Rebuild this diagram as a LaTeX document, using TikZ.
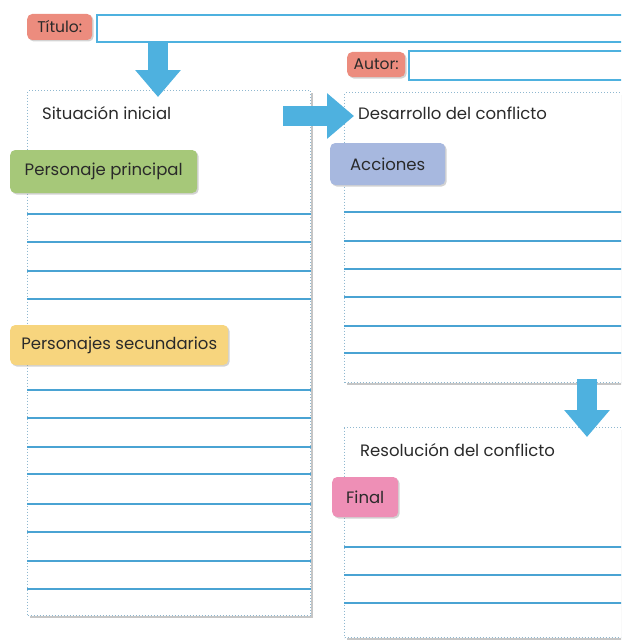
\documentclass[tikz,border=0pt]{standalone}
\usepackage{fontspec}
\setmainfont{Poppins}
\usetikzlibrary{positioning, shadows, arrows.meta}
\definecolor{azul}{HTML}{4EB1DF}
\definecolor{linea}{HTML}{4AA3D3}
\definecolor{rojo}{HTML}{EC8C7E}
\definecolor{verde}{HTML}{A6C879}
\definecolor{amarillo}{HTML}{F7D57E}
\definecolor{lila}{HTML}{A7B8DF}
\definecolor{rosa}{HTML}{EE8FB6}
\definecolor{punteado}{HTML}{8FB8D0}
\definecolor{texto}{HTML}{2A2A2A}
\tikzset{tag/.style={
        rounded corners=5pt,
        inner sep=0pt,
        anchor=west,
        font=\fontsize{16.5}{18}\selectfont,
        text=texto,
        drop shadow={opacity=0.35, shadow xshift=1.5pt, shadow yshift=-1.5pt}
}}
\tikzset{field/.style={
        draw=azul,
        line width=2pt,
        fill=white,
        inner sep=0pt,
        minimum height=27pt
}}
\tikzset{panel/.style={
        draw=punteado,
        dotted,
        line width=1pt,
        fill=white,
        inner sep=0pt,
        anchor=north west,
        drop shadow={opacity=0.45, shadow xshift=2pt, shadow yshift=-2pt}
}}
\tikzset{heading/.style={anchor=west, inner sep=0pt, font=\fontsize{16.5}{18}\selectfont, text=texto}}
\tikzset{renglon/.style={draw=linea, line width=1.6pt}}
\tikzset{flecha/.style={draw=azul, line width=20pt, -{Triangle[width=44pt, length=27pt]}}}

\begin{document}
\begin{tikzpicture}[x=1pt, y=-1pt, node distance=4pt]
\useasboundingbox (0,0) rectangle (621,642);
\clip (0,0) rectangle (621,642);

% cabecera
\node[tag, fill=rojo, minimum width=65pt, minimum height=26pt, font=\fontsize{15.5}{17}\selectfont] (titulo) at (27,27) {Título:};
\node[field, anchor=north west, minimum width=560pt] (titulocampo) at (96,14) {};
\node[tag, fill=rojo, minimum width=58pt, minimum height=25pt, font=\fontsize{15.5}{17}\selectfont] (autor) at (347,64.5) {Autor:};
\node[field, anchor=north west, minimum width=250pt, minimum height=29pt] (autorcampo) at (408,50) {};

% paneles
\node[panel, minimum width=283pt, minimum height=525pt] (inicial) at (27,90) {};
\node[panel, minimum width=300pt, minimum height=290pt] (desarrollo) at (344,92) {};
\node[panel, minimum width=300pt, minimum height=210pt] (resolucion) at (344,427) {};

% renglones
\foreach \y in {214,242,271,299,390,418,447,474,504,532,561,589}
    \draw[renglon] (inicial.west |- 0,\y) -- (inicial.east |- 0,\y);
\foreach \y in {212,241,269,297,326,353}
    \draw[renglon] (desarrollo.west |- 0,\y) -- (desarrollo.east |- 0,\y);
\foreach \y in {547,575,603}
    \draw[renglon] (resolucion.west |- 0,\y) -- (resolucion.east |- 0,\y);

% titulos de los paneles
\node[heading] (hinicial) at (42,113) {Situación inicial};
\node[heading] (hdesarrollo) at (358,113) {Desarrollo del conflicto};
\node[heading] (hresolucion) at (360,450) {Resolución del conflicto};

% etiquetas
\node[tag, fill=verde, minimum width=187pt, minimum height=43pt] (principal) at (10,171.5) {Personaje principal};
\node[tag, fill=amarillo, minimum width=218pt, minimum height=40pt] (secundarios) at (10,345) {Personajes secundarios};
\node[tag, fill=lila, minimum width=115pt, minimum height=42pt] (acciones) at (330,164) {Acciones};
\node[tag, fill=rosa, minimum width=66pt, minimum height=40pt] (final) at (332,497) {Final};

% flechas
\coordinate (f1) at (158,97);
\coordinate (f2a) at (283,116);
\coordinate (f2b) at (354,116);
\coordinate (f3) at (587,437);
\draw[flecha] (titulocampo.south -| f1) -- (f1);
\draw[flecha] (f2a) -- (f2b);
\draw[flecha] ([yshift=4pt]desarrollo.south -| f3) -- (f3);
\end{tikzpicture}
\end{document}
